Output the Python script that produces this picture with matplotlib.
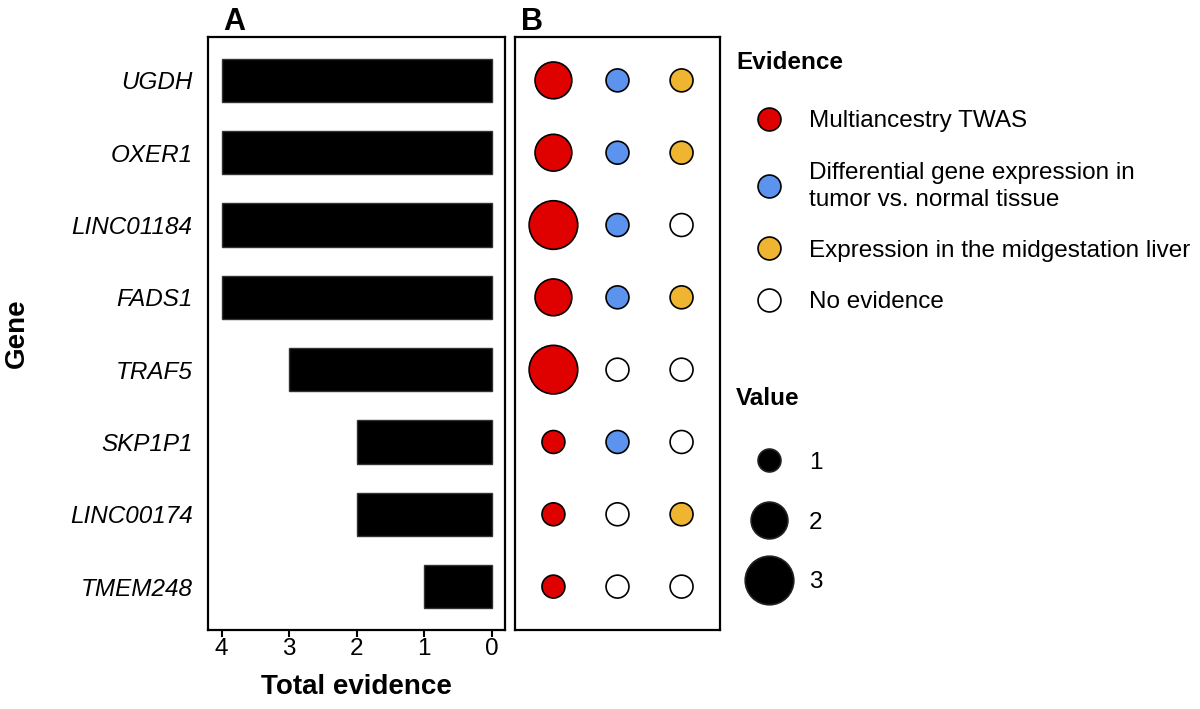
import matplotlib
matplotlib.use("Agg")
import matplotlib.pyplot as plt
from matplotlib.lines import Line2D

plt.rcParams['font.family'] = ['Liberation Sans', 'DejaVu Sans']

# data
genes = ["UGDH", "OXER1", "LINC01184", "FADS1", "TRAF5", "SKP1P1", "LINC00174", "TMEM248"]
total_evidence = [4, 4, 4, 4, 3, 2, 2, 1]
twas = [2, 2, 3, 2, 3, 1, 1, 1]
dge = [1, 1, 1, 1, 0, 1, 0, 0]
liver = [1, 1, 0, 1, 0, 0, 1, 0]

evidence_labels = ["Multiancestry TWAS",
                   "Differential gene expression in\ntumor vs. normal tissue",
                   "Expression in the midgestation liver",
                   "No evidence"]
evidence_colors = ["#DF0000", "#5B93EE", "#EFB531", "white"]
value_levels = [1, 2, 3]
# marker diameter (pt) per value
diam = {1: 16.5, 2: 26.5, 3: 35.0}

FS = 17.5

fig = plt.figure(figsize=(12, 7.09), dpi=100)
axA = fig.add_axes([208/1200, 1-630/709, 297/1200, 593/709])
axB = fig.add_axes([515/1200, 1-630/709, 205/1200, 593/709])

rows = list(range(len(genes)))

# panel A
axA.barh(rows, total_evidence, height=0.6, color="black", edgecolor="#333333", linewidth=1)
axA.set_xlim(4.2, -0.2)
axA.set_ylim(len(genes) - 0.4, -0.6)
axA.set_yticks(rows)
axA.set_yticklabels(genes, fontstyle="italic", fontsize=FS)
axA.set_xticks([4, 3, 2, 1, 0])
axA.tick_params(axis="y", length=0, pad=11)
axA.tick_params(axis="x", length=5, width=1.5, labelsize=FS, pad=1)
axA.set_xlabel("Total evidence", fontsize=20, fontweight="bold", labelpad=10)
axA.set_ylabel("Gene", fontsize=20, fontweight="bold", labelpad=29)
axA.set_title("A", loc="left", fontsize=22, fontweight="bold", x=0.05, pad=5)

# panel B
for col, vals, color in zip([1, 2, 3], [twas, dge, liver], evidence_colors[:3]):
    sizes = [diam[v] ** 2 if v > 0 else diam[1] ** 2 for v in vals]
    colors = [color if v > 0 else "white" for v in vals]
    axB.scatter([col] * len(vals), rows, s=sizes, c=colors, edgecolors="black",
                linewidths=1.2, zorder=3)
axB.set_xlim(0.4, 3.6)
axB.set_ylim(len(genes) - 0.4, -0.6)
axB.set_xticks([])
axB.set_yticks([])
axB.set_title("B", loc="left", fontsize=22, fontweight="bold", x=0.03, pad=5)

for ax in (axA, axB):
    for sp in ax.spines.values():
        sp.set_linewidth(1.6)

# legends
ev_handles = [Line2D([], [], marker="o", linestyle="", markersize=diam[1],
                     markerfacecolor=c, markeredgecolor="black", markeredgewidth=1.2)
              for c in evidence_colors]
leg1 = fig.legend(ev_handles, evidence_labels, loc="upper left",
                  bbox_to_anchor=(729/1200, 1-44/709), frameon=False,
                  title="Evidence", fontsize=FS, alignment="left",
                  handlelength=2.7, handletextpad=0.3, labelspacing=1.2,
                  borderaxespad=0, borderpad=0.3)
leg1.get_title().set_fontweight("bold")
leg1.get_title().set_fontsize(FS)
leg1._legend_box.sep = 26
for t in leg1.get_texts():
    t.set_linespacing(1.3)

val_handles = [Line2D([], [], marker="o", linestyle="", markersize=diam[v],
                      markerfacecolor="black", markeredgecolor="#222222", markeredgewidth=1.2)
               for v in value_levels]
leg2 = fig.legend(val_handles, [str(v) for v in value_levels], loc="upper left",
                  bbox_to_anchor=(729/1200, 1-380/709), frameon=False,
                  title="Value", fontsize=FS, alignment="left",
                  handlelength=2.7, handletextpad=0.3, labelspacing=1.55,
                  borderaxespad=0, borderpad=0.3)
leg2.get_title().set_fontweight("bold")
leg2.get_title().set_fontsize(FS)
leg2._legend_box.sep = 30

fig.savefig("out.png", dpi=100)
